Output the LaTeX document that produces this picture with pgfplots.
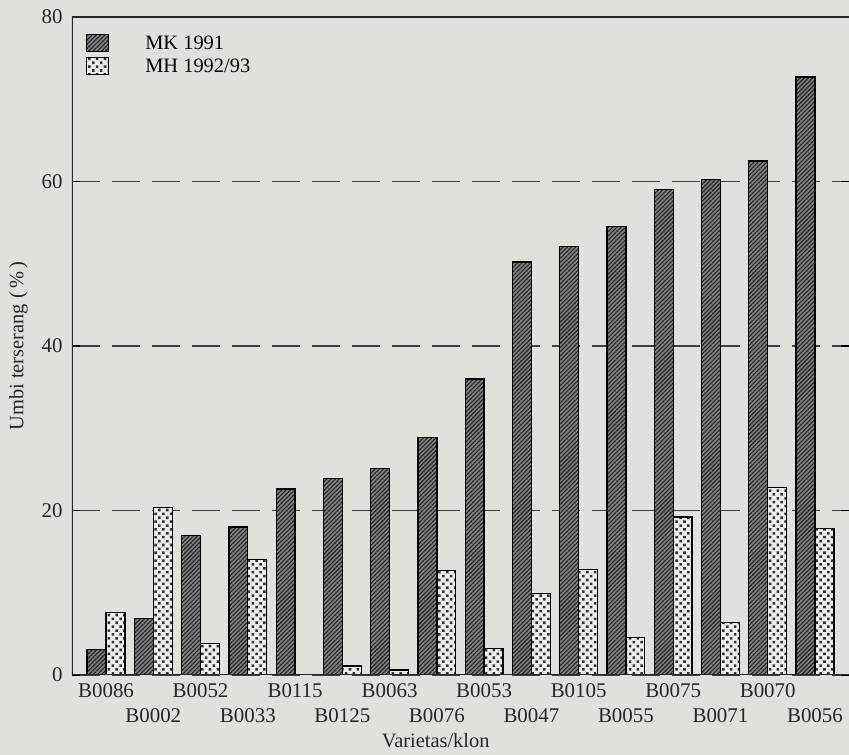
\documentclass[border=0pt]{standalone}
\usepackage{pgfplots}
\pgfplotsset{compat=1.18}
\usepackage{fontspec}
\setmainfont{Liberation Serif}
\usetikzlibrary{patterns.meta,backgrounds}

\definecolor{paper}{RGB}{226,224,220}

\begin{document}
\begin{tikzpicture}
\begin{axis}[
  name=ax,
  scale only axis,
  width=777bp, height=658bp,
  xmin=-0.72, xmax=15.72,
  ymin=0, ymax=80,
  axis line style={draw=none},
  ybar, bar width=0.4,
  ytick={0,20,40,60,80},
  /pgf/number format/assume math mode=true,
  tick align=inside,
  major tick length=8bp,
  ytick style={line width=1.3bp, black},
  xtick style={draw=none},
  xtick={0,2,...,14},
  xticklabels={B0086,B0052,B0115,B0063,B0053,B0105,B0075,B0070},
  extra x ticks={1,3,...,15},
  extra x tick labels={B0002,B0033,B0125,B0076,B0047,B0055,B0071,B0056},
  extra x tick style={xticklabel style={yshift=-25bp}, grid=none},
  ticklabel style={font=\fontsize{21}{24}\selectfont, black!85},
  xticklabel style={yshift=-5bp},
  yticklabel style={xshift=-6bp},
  ymajorgrids,
  grid style={dash pattern=on 28bp off 12bp, line width=1.7bp, black!75},
  xlabel={Varietas/klon},
  ylabel={Umbi terserang (\,\%\,)},
  label style={font=\fontsize{20.5}{24}\selectfont, black!85},
  xlabel style={at={(axis description cs:0.468,-0.099)}, anchor=center},
  ylabel style={at={(axis description cs:-0.069,0.5)}, anchor=center},
  legend style={at={(rel axis cs:0.018,0.975)}, anchor=north west,
    draw=none, fill=none, font=\fontsize{20.5}{24}\selectfont,
    row sep=1bp, inner sep=0pt,
    nodes={inner sep=2bp, text height=14bp, text depth=4bp},
    cells={anchor=west}},
  legend image code/.code={
    \draw[#1, line width=1bp] (0bp,-7bp) rectangle (22bp,10bp);
    \path (56bp,0bp);},
]
\addplot[fill=black!50, draw=black, line width=1.3bp, bar shift=-0.2,
  postaction={pattern={Lines[angle=45,distance=3bp,line width=1.1bp]}, pattern color=black!85}]
  coordinates {
  (0,3.1) (1,6.9) (2,17.0) (3,18.0) (4,22.6) (5,23.9) (6,25.1) (7,28.9)
  (8,36.0) (9,50.2) (10,52.1) (11,54.5) (12,59.0) (13,60.2) (14,62.5) (15,72.7)
};
\addplot[fill=white!40!paper, draw=black, line width=1.3bp, bar shift=0.2,
  postaction={pattern={Dots[radius=1.8bp,distance=5.5bp,angle=45]}, pattern color=black!80}]
  coordinates {
  (0,7.6) (1,20.4) (2,3.8) (3,14.0) (5,1.1) (6,0.6) (7,12.7)
  (8,3.2) (9,9.9) (10,12.8) (11,4.6) (12,19.2) (13,6.4) (14,22.8) (15,17.8)
};
\legend{MK 1991, MH 1992/93}
\draw[line width=1.5bp, black!85] (rel axis cs:0,1) -- (rel axis cs:0,0) -- (rel axis cs:1,0);
\draw[line width=1.5bp, black!85] (rel axis cs:0,1) -- (rel axis cs:1,1);
\end{axis}
\pgfresetboundingbox
\useasboundingbox ([shift={(-72bp,-80bp)}]ax.south west) rectangle ([shift={(0bp,17bp)}]ax.north east);
\begin{scope}[on background layer]
\fill[paper] ([shift={(-72bp,-80bp)}]ax.south west) rectangle ([shift={(0bp,17bp)}]ax.north east);
\end{scope}
\end{tikzpicture}
\end{document}
